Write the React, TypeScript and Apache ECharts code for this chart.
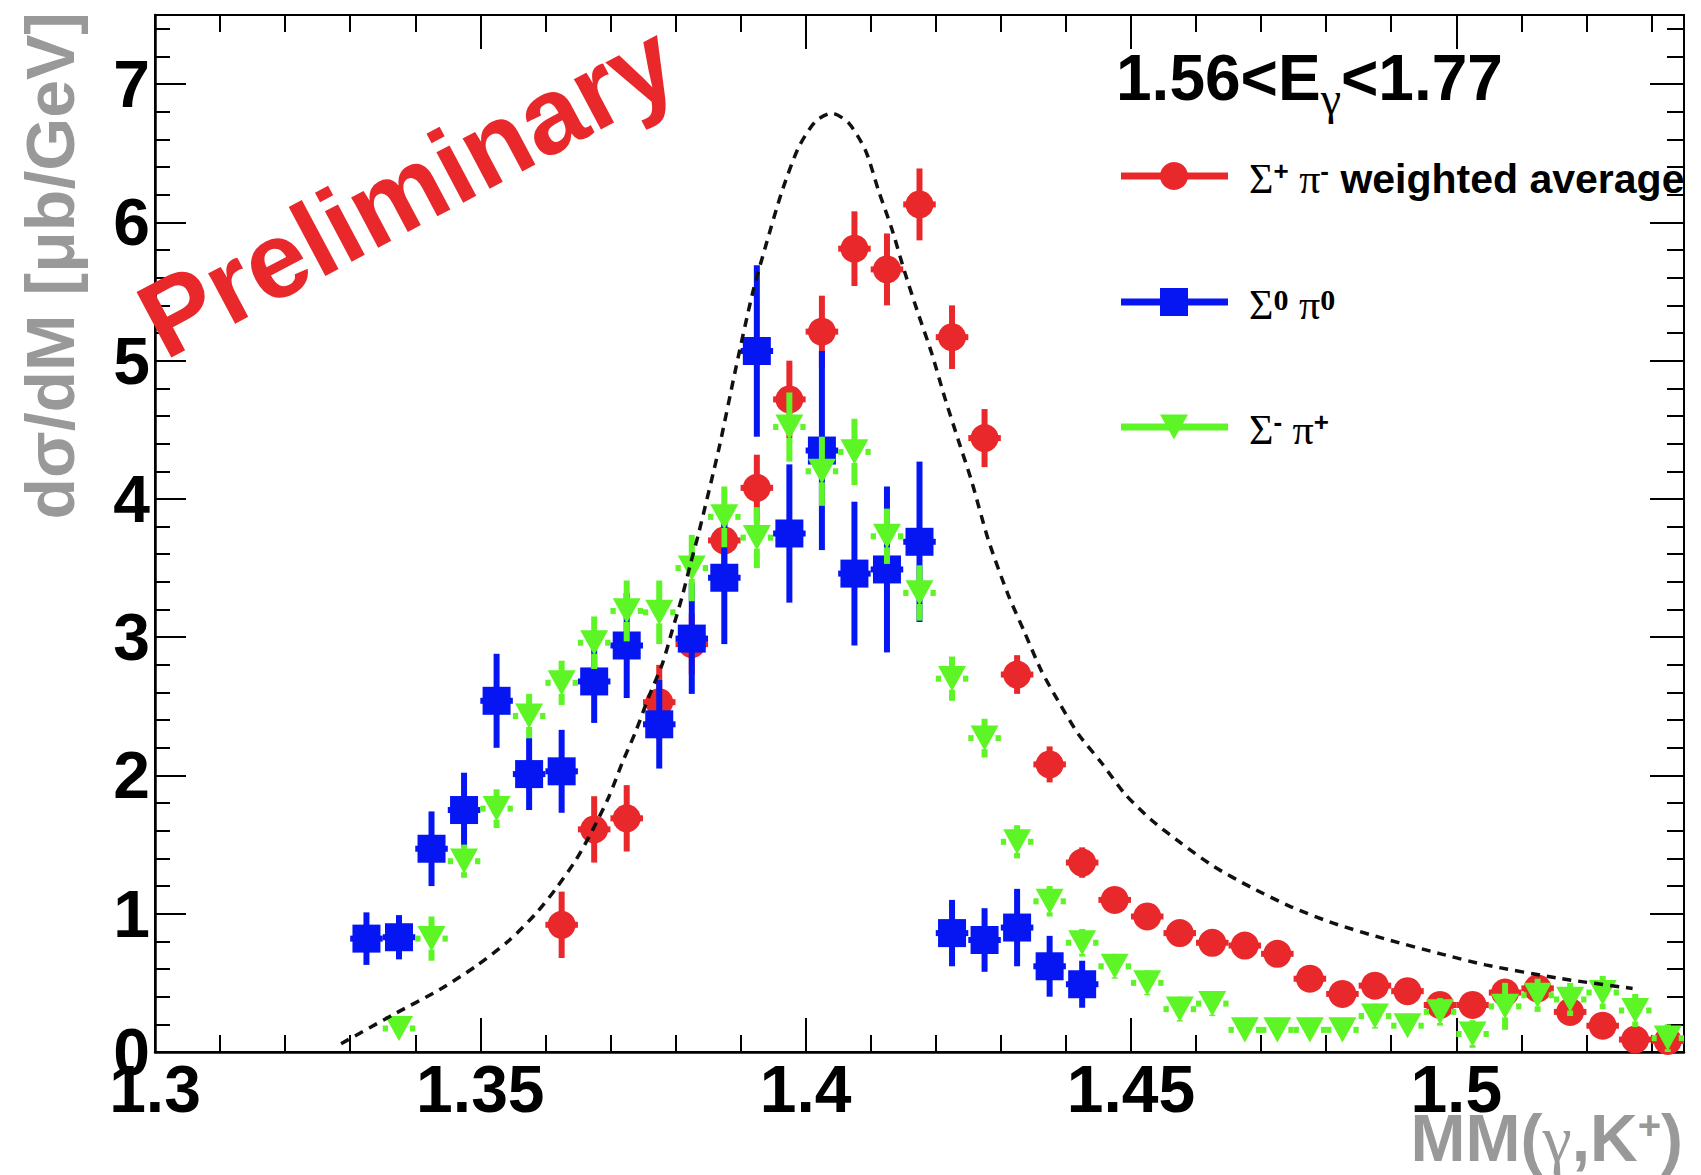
import React, { useEffect, useRef } from "react";
import * as echarts from "echarts";

// ---------------- data ----------------
const X_MIN = 1.3;
const X_MAX = 1.535;
const Y_MIN = 0;
const Y_MAX = 7.5;
const BIN_HALF = 0.0025;

// Sigma+ pi- weighted average (red circles)
const redX = [
  1.3625, 1.3675, 1.3725, 1.3775, 1.3825, 1.3875, 1.3925, 1.3975, 1.4025, 1.4075,
  1.4125, 1.4175, 1.4225, 1.4275, 1.4325, 1.4375, 1.4425, 1.4475, 1.4525, 1.4575,
  1.4625, 1.4675, 1.4725, 1.4775, 1.4825, 1.4875, 1.4925, 1.4975, 1.5025, 1.5075,
  1.5125, 1.5175, 1.5225, 1.5275, 1.5325,
];
const redY = [
  0.92, 1.61, 1.69, 2.53, 2.95, 3.7, 4.08, 4.72, 5.21, 5.81,
  5.66, 6.13, 5.17, 4.44, 2.73, 2.08, 1.37, 1.1, 0.98, 0.86,
  0.79, 0.77, 0.71, 0.53, 0.42, 0.48, 0.44, 0.34, 0.34, 0.43,
  0.46, 0.29, 0.19, 0.09, 0.08,
];
const redErr = [
  0.24, 0.24, 0.24, 0.27, 0.22, 0.2, 0.24, 0.28, 0.26, 0.27,
  0.26, 0.26, 0.23, 0.21, 0.14, 0.13, 0.11, 0.09, 0.08, 0.08,
  0.08, 0.08, 0.08, 0.07, 0.07, 0.07, 0.07, 0.06, 0.06, 0.06,
  0.06, 0.06, 0.06, 0.06, 0.06,
];

// Sigma0 pi0 (blue squares)
const blueX = [
  1.3325, 1.3375, 1.3425, 1.3475, 1.3525, 1.3575, 1.3625, 1.3675, 1.3725, 1.3775,
  1.3825, 1.3875, 1.3925, 1.3975, 1.4025, 1.4075, 1.4125, 1.4175, 1.4225, 1.4275,
  1.4325, 1.4375, 1.4425,
];
const blueY = [
  0.82, 0.83, 1.47, 1.75, 2.54, 2.01, 2.03, 2.68, 2.94, 2.37,
  2.99, 3.43, 5.07, 3.75, 4.35, 3.46, 3.49, 3.69, 0.86, 0.81,
  0.9, 0.62, 0.49,
];
const blueErr = [
  0.19, 0.16, 0.27, 0.27, 0.34, 0.26, 0.3, 0.3, 0.38, 0.32,
  0.4, 0.48, 0.62, 0.5, 0.72, 0.52, 0.6, 0.58, 0.24, 0.23,
  0.28, 0.22, 0.17,
];

// Sigma- pi+ (green triangles)
const greenX = [
  1.3375, 1.3425, 1.3475, 1.3525, 1.3575, 1.3625, 1.3675, 1.3725, 1.3775, 1.3825,
  1.3875, 1.3925, 1.3975, 1.4025, 1.4075, 1.4125, 1.4175, 1.4225, 1.4275, 1.4325,
  1.4375, 1.4425, 1.4475, 1.4525, 1.4575, 1.4625, 1.4675, 1.4725, 1.4775, 1.4825,
  1.4875, 1.4925, 1.4975, 1.5025, 1.5075, 1.5125, 1.5175, 1.5225, 1.5275, 1.5325,
];
const greenY = [
  0.17, 0.82, 1.38, 1.76, 2.43, 2.67, 2.96, 3.19, 3.18, 3.5,
  3.87, 3.72, 4.52, 4.2, 4.34, 3.73, 3.32, 2.7, 2.27, 1.52,
  1.09, 0.79, 0.62, 0.5, 0.31, 0.35, 0.16, 0.16, 0.16, 0.16,
  0.26, 0.19, 0.29, 0.13, 0.33, 0.41, 0.38, 0.43, 0.3, 0.1,
];
const greenErr = [
  0.06, 0.16, 0.12, 0.14, 0.16, 0.16, 0.19, 0.22, 0.23, 0.24,
  0.22, 0.22, 0.25, 0.25, 0.24, 0.2, 0.2, 0.16, 0.14, 0.12,
  0.11, 0.1, 0.09, 0.09, 0.09, 0.09, 0.08, 0.08, 0.08, 0.08,
  0.09, 0.08, 0.1, 0.1, 0.17, 0.12, 0.12, 0.12, 0.12, 0.1,
];

// dashed model curve
const curveX = [
  1.3286, 1.3366, 1.3437, 1.3493, 1.3545, 1.3585, 1.3616, 1.3647, 1.3672, 1.3698,
  1.3718, 1.3739, 1.3759, 1.378, 1.3795, 1.381, 1.3823, 1.3836, 1.3867, 1.3892,
  1.3918, 1.3938, 1.3964, 1.3989, 1.4015, 1.404, 1.4066, 1.4092, 1.4112, 1.4132,
  1.4153, 1.4173, 1.4194, 1.4214, 1.4235, 1.4255, 1.4281, 1.4311, 1.4337, 1.4362,
  1.4388, 1.4419, 1.4455, 1.449, 1.4531, 1.4577, 1.4628, 1.4685, 1.4746, 1.4812,
  1.4889, 1.4976, 1.5045, 1.5162, 1.5271,
];
const curveY = [
  0.06, 0.27, 0.45, 0.62, 0.81, 1.0, 1.18, 1.39, 1.6, 1.85,
  2.09, 2.32, 2.57, 2.81, 3.05, 3.29, 3.53, 3.76, 4.37, 4.93,
  5.48, 5.82, 6.23, 6.54, 6.73, 6.79, 6.72, 6.52, 6.23, 5.96,
  5.63, 5.34, 5.05, 4.73, 4.42, 4.13, 3.7, 3.31, 3.03, 2.76,
  2.54, 2.3, 2.09, 1.87, 1.68, 1.51, 1.34, 1.19, 1.05, 0.93,
  0.82, 0.71, 0.63, 0.53, 0.46,
];

const legendLabels = ["Σ⁺ π⁻ weighted average", "Σ⁰ π⁰", "Σ⁻ π⁺"];

// ---------------- style ----------------
const FONT = "'Liberation Sans', Arial, Helvetica, sans-serif";
const SERIF = "'Liberation Serif', 'Times New Roman', serif";
const RED = "#e8282b";
const BLUE = "#0516f2";
const GREEN = "#5ef526";
const GRAY = "#999999";

const GRID = { left: 155, top: 15, width: 1529, height: 1037 };
const MARK = 28;
const BAR_W = 6;
const GAP = 11;

function measure(text: string, font: string): number {
  const ctx = document.createElement("canvas").getContext("2d");
  if (!ctx) return text.length * 30;
  ctx.font = font;
  return ctx.measureText(text).width;
}

function markerEl(kind: string, cx: number, cy: number, color: string, size: number) {
  const h = size / 2;
  if (kind === "circle") {
    return { type: "circle", shape: { cx, cy, r: h }, style: { fill: color } };
  }
  if (kind === "square") {
    return { type: "rect", shape: { x: cx - h, y: cy - h, width: size, height: size }, style: { fill: color } };
  }
  return {
    type: "polygon",
    shape: { points: [[cx - h, cy - h * 0.9], [cx + h, cy - h * 0.9], [cx, cy + h * 0.9]] },
    style: { fill: color },
  };
}

function errSeries(name: string, xs: number[], ys: number[], es: number[], color: string, kind: string, z: number) {
  return {
    type: "custom",
    name,
    xAxisIndex: 0,
    yAxisIndex: 0,
    z,
    clip: false,
    data: xs.map((x, i) => [x, ys[i], es[i]]),
    renderItem: (_params: any, api: any) => {
      const x = api.value(0);
      const y = api.value(1);
      const e = api.value(2);
      const c = api.coord([x, y]);
      const top = api.coord([x, y + e])[1];
      const bot = api.coord([x, y - e])[1];
      const left = api.coord([x - BIN_HALF, y])[0];
      const right = api.coord([x + BIN_HALF, y])[0];
      const st = { stroke: color, lineWidth: BAR_W };
      const children: any[] = [];
      if (c[1] - top > GAP) {
        children.push({ type: "line", shape: { x1: c[0], y1: c[1] - GAP, x2: c[0], y2: top }, style: st });
        children.push({ type: "line", shape: { x1: c[0], y1: c[1] + GAP, x2: c[0], y2: bot }, style: st });
      }
      children.push({ type: "line", shape: { x1: left, y1: c[1], x2: c[0] - GAP, y2: c[1] }, style: st });
      children.push({ type: "line", shape: { x1: c[0] + GAP, y1: c[1], x2: right, y2: c[1] }, style: st });
      children.push(markerEl(kind, c[0], c[1], color, MARK));
      return { type: "group", children };
    },
  };
}

function xAxisDef(grid: number, pos: string, interval: number, tickLen: number, labels: boolean) {
  return {
    type: "value",
    gridIndex: grid,
    position: pos,
    min: X_MIN,
    max: X_MAX,
    interval,
    axisLine: { show: labels, onZero: false, lineStyle: { color: "#000", width: 2.5 } },
    axisTick: { show: true, inside: true, length: tickLen, lineStyle: { color: "#000", width: 2 } },
    splitLine: { show: false },
    axisLabel: labels
      ? {
          show: true,
          showMinLabel: true,
          showMaxLabel: true,
          margin: 4,
          color: "#000",
          fontFamily: FONT,
          fontWeight: "bold",
          fontSize: 66,
          formatter: (v: number) =>
            Math.abs(v * 20 - Math.round(v * 20)) < 1e-6 ? String(Math.round(v * 100) / 100) : "",
        }
      : { show: false },
  };
}

function yAxisDef(grid: number, pos: string, interval: number, tickLen: number, labels: boolean) {
  return {
    type: "value",
    gridIndex: grid,
    position: pos,
    min: Y_MIN,
    max: Y_MAX,
    interval,
    axisLine: { show: labels, onZero: false, lineStyle: { color: "#000", width: 2.5 } },
    axisTick: { show: true, inside: true, length: tickLen, lineStyle: { color: "#000", width: 2 } },
    splitLine: { show: false },
    axisLabel: labels
      ? {
          show: true,
          showMinLabel: true,
          showMaxLabel: true,
          margin: 5,
          padding: [18, 0, 0, 0],
          color: "#000",
          fontFamily: FONT,
          fontWeight: "bold",
          fontSize: 66,
          formatter: (v: number) =>
            Math.abs(v - Math.round(v)) < 1e-6 ? String(Math.round(v)) : "",
        }
      : { show: false },
  };
}

export default function App() {
  const ref = useRef<HTMLDivElement>(null);

  useEffect(() => {
    if (!ref.current) return;
    const chart = echarts.init(ref.current, null, { renderer: "svg" });

    // header text "1.56<Eγ<1.77"
    const hFont = `bold 64px ${FONT}`;
    const gFont = `46px ${SERIF}`;
    const hx0 = 1116;
    const hx1 = hx0 + measure("1.56<E", hFont);
    const hx2 = hx1 + measure("γ", gFont);

    const legendKinds = ["circle", "square", "triangle"];
    const legendColors = [RED, BLUE, GREEN];
    const legendRows = [176, 302, 427];
    const legendRich = [
      "{g|Σ}{p|+}{g| π}{p|-}{b| weighted average}",
      "{g|Σ}{q|0}{g| π}{q|0}",
      "{g|Σ}{p|-}{g| π}{p|+}",
    ];
    const rich = {
      g: { fontFamily: SERIF, fontSize: 42, fill: "#000", color: "#000" },
      p: { fontFamily: FONT, fontWeight: "bold", fontSize: 26, verticalAlign: "top", fill: "#000", color: "#000" },
      q: { fontFamily: SERIF, fontWeight: "bold", fontSize: 30, verticalAlign: "top", fill: "#000", color: "#000" },
      b: { fontFamily: FONT, fontWeight: "bold", fontSize: 41, fill: "#000", color: "#000" },
    };

    const legendEls: any[] = [];
    legendRows.forEach((ly, i) => {
      legendEls.push({
        type: "line",
        shape: { x1: 1121, y1: ly, x2: 1228, y2: ly },
        style: { stroke: legendColors[i], lineWidth: 7 },
      });
      legendEls.push(markerEl(legendKinds[i], 1174, ly, legendColors[i], MARK));
      legendEls.push({
        type: "text",
        x: 1249,
        y: ly + 3,
        style: {
          text: legendRich[i],
          rich,
          align: "left",
          verticalAlign: "middle",
        },
      });
    });

    const option: any = {
      animation: false,
      backgroundColor: "#ffffff",
      grid: [
        { ...GRID, show: true, borderColor: "#000", borderWidth: 2, backgroundColor: "transparent", containLabel: false, outerBoundsMode: "none" },
        { ...GRID, show: false, containLabel: false, outerBoundsMode: "none" },
      ],
      xAxis: [
        xAxisDef(0, "bottom", 0.05, 34, true),
        xAxisDef(0, "top", 0.05, 34, false),
        xAxisDef(1, "bottom", 0.01, 17, false),
        xAxisDef(1, "top", 0.01, 17, false),
      ],
      yAxis: [
        yAxisDef(0, "left", 1, 31, true),
        yAxisDef(0, "right", 1, 34, false),
        yAxisDef(1, "left", 0.2, 15, false),
        yAxisDef(1, "right", 0.2, 17, false),
      ],
      series: [
        errSeries(legendLabels[0], redX, redY, redErr, RED, "circle", 3),
        errSeries(legendLabels[1], blueX, blueY, blueErr, BLUE, "square", 4),
        errSeries(legendLabels[2], greenX, greenY, greenErr, GREEN, "triangle", 5),
        {
          type: "line",
          name: "model",
          xAxisIndex: 0,
          yAxisIndex: 0,
          z: 6,
          data: curveX.map((x, i) => [x, curveY[i]]),
          showSymbol: false,
          symbol: "none",
          smooth: 0.25,
          lineStyle: { color: "#111", width: 3.5, type: [9, 7] },
        },
      ],
      graphic: [
        {
          type: "text",
          x: 407,
          y: 190,
          rotation: (28 * Math.PI) / 180,
          z: 10,
          style: {
            text: "Preliminary",
            font: `bold 108px ${FONT}`,
            fill: RED,
            align: "center",
            verticalAlign: "middle",
          },
        },
        {
          type: "text",
          x: 50,
          y: 12,
          rotation: Math.PI / 2,
          style: {
            text: "dσ/dM [μb/GeV]",
            font: `bold 68px ${FONT}`,
            fill: GRAY,
            align: "right",
            verticalAlign: "middle",
          },
        },
        {
          type: "text",
          x: 1683,
          y: 1138,
          style: {
            text: "{a|MM(}{g|γ}{a|,K}{s|+}{a|)}",
            rich: {
              a: { fontFamily: FONT, fontWeight: "bold", fontSize: 66, fill: GRAY, color: GRAY },
              g: { fontFamily: SERIF, fontSize: 66, fill: GRAY, color: GRAY },
              s: { fontFamily: FONT, fontWeight: "bold", fontSize: 40, verticalAlign: "top", fill: GRAY, color: GRAY },
            },
            align: "right",
            verticalAlign: "middle",
          },
        },
        {
          type: "text",
          x: hx0,
          y: 78,
          style: { text: "1.56<E", font: hFont, fill: "#000", align: "left", verticalAlign: "middle" },
        },
        {
          type: "text",
          x: hx1,
          y: 98,
          style: { text: "γ", font: gFont, fill: "#000", align: "left", verticalAlign: "middle" },
        },
        {
          type: "text",
          x: hx2,
          y: 78,
          style: { text: "<1.77", font: hFont, fill: "#000", align: "left", verticalAlign: "middle" },
        },
        ...legendEls,
      ],
    };

    chart.setOption(option);
    return () => chart.dispose();
  }, []);

  return (
    <div
      ref={ref}
      style={{ position: "absolute", left: 0, top: 0, width: 1701, height: 1175, background: "#fff" }}
    />
  );
}
